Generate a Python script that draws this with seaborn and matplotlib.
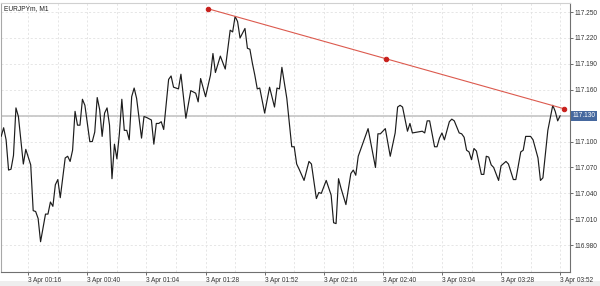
import numpy as np
import pandas as pd
import matplotlib
matplotlib.use("Agg")
import matplotlib.pyplot as plt
import matplotlib.ticker as mticker
import matplotlib.transforms as mtransforms
from matplotlib.patches import Rectangle
import seaborn as sns

# ---------------- data ----------------
symbol_title = "EURJPYm, M1"

# minutes after 00:00 (3 Apr) and close price
minutes = [5, 6, 7, 8, 9, 10, 11, 12, 14, 15, 17, 18, 19, 20, 21, 23, 24, 25, 26, 27,
           28, 29, 31, 32, 33, 34, 35, 36, 37, 38, 39, 41, 42, 43, 44, 45, 46, 47, 48, 49,
           50, 51, 52, 53, 54, 55, 56, 57, 58, 59, 60, 62, 63, 64, 66, 67, 68, 69, 70, 71,
           73, 74, 75, 77, 78, 80, 82, 84, 85, 86, 88, 90, 91, 92, 94, 96, 98, 99, 100, 101,
           102, 104, 105, 106, 107, 108, 109, 110, 112, 114, 116, 117, 118, 119, 121, 123, 124, 125, 126, 128,
           130, 131, 133, 134, 135, 137, 139, 140, 141, 142, 143, 145, 147, 148, 149, 150, 154, 157, 158, 159,
           161, 163, 165, 166, 167, 168, 170, 171, 172, 174, 176, 177, 178, 179, 181, 182, 183, 184, 185, 187,
           188, 189, 191, 192, 193, 194, 195, 196, 197, 198, 200, 201, 202, 203, 204, 205, 207, 208, 210, 211,
           213, 214, 216, 217, 218, 220, 221, 223, 224, 225, 227, 229, 230, 231, 232]
prices = [117.106, 117.116, 117.102, 117.067, 117.068, 117.084, 117.139, 117.129, 117.074, 117.091,
          117.073, 117.020, 117.019, 117.011, 116.984, 117.016, 117.016, 117.030, 117.025, 117.050,
          117.056, 117.035, 117.081, 117.083, 117.077, 117.090, 117.135, 117.119, 117.119, 117.149,
          117.142, 117.100, 117.100, 117.111, 117.151, 117.137, 117.106, 117.133, 117.139, 117.119,
          117.057, 117.097, 117.080, 117.109, 117.149, 117.113, 117.113, 117.102, 117.152, 117.162,
          117.150, 117.104, 117.129, 117.128, 117.125, 117.097, 117.121, 117.121, 117.123, 117.114,
          117.172, 117.176, 117.163, 117.161, 117.178, 117.127, 117.159, 117.156, 117.146, 117.173,
          117.152, 117.177, 117.202, 117.180, 117.199, 117.184, 117.229, 117.227, 117.245, 117.239,
          117.220, 117.231, 117.208, 117.207, 117.191, 117.177, 117.161, 117.162, 117.133, 117.163,
          117.140, 117.162, 117.161, 117.186, 117.150, 117.094, 117.094, 117.074, 117.068, 117.055,
          117.077, 117.074, 117.034, 117.041, 117.040, 117.055, 117.038, 117.006, 117.005, 117.057,
          117.046, 117.027, 117.063, 117.067, 117.061, 117.083, 117.115, 117.070, 117.109, 117.109,
          117.115, 117.083, 117.110, 117.140, 117.142, 117.140, 117.112, 117.121, 117.110, 117.111,
          117.112, 117.110, 117.124, 117.124, 117.094, 117.094, 117.104, 117.110, 117.102, 117.123,
          117.126, 117.124, 117.110, 117.109, 117.105, 117.090, 117.088, 117.079, 117.092, 117.089,
          117.062, 117.062, 117.083, 117.082, 117.073, 117.070, 117.055, 117.072, 117.077, 117.074,
          117.056, 117.056, 117.088, 117.090, 117.106, 117.106, 117.102, 117.081, 117.055, 117.058,
          117.113, 117.142, 117.135, 117.124, 117.130]

trend_minutes = [88.8, 161.2, 233.6]
trend_prices = [117.254, 117.196, 117.138]

current_price = 117.130

y_ticks = [116.980, 117.010, 117.040, 117.070, 117.100, 117.130, 117.160, 117.190, 117.220, 117.250]
x_tick_minutes = [16, 40, 64, 88, 112, 136, 160, 184, 208, 232]
x_tick_labels = ["3 Apr 00:16", "3 Apr 00:40", "3 Apr 01:04", "3 Apr 01:28", "3 Apr 01:52",
                 "3 Apr 02:16", "3 Apr 02:40", "3 Apr 03:04", "3 Apr 03:28", "3 Apr 03:52"]

# ---------------- style ----------------
sns.set_theme(style="white")
plt.rcParams['font.family'] = ['Liberation Sans', 'DejaVu Sans']

W, H = 600, 286
fig = plt.figure(figsize=(W / 100, H / 100), dpi=100)
fig.patch.set_facecolor("white")
ax_left, ax_right, ax_top, ax_bottom = 1, 570, 3, 271.6
ax = fig.add_axes([ax_left / W, 1 - ax_bottom / H, (ax_right - ax_left) / W, (ax_bottom - ax_top) / H])

# bottom light strip
fig.patches.append(Rectangle((0, 0), 1, 5.5 / H, transform=fig.transFigure,
                             facecolor="#eeeeee", edgecolor="none", zorder=-1))

df = pd.DataFrame({"minute": minutes, "price": prices})
tdf = pd.DataFrame({"minute": trend_minutes, "price": trend_prices})

ax.axhline(current_price, color="#c9c9c9", lw=1.3, zorder=1)
sns.lineplot(data=df, x="minute", y="price", ax=ax, color="#1c1c1c", lw=0.85,
             estimator=None, zorder=3)
sns.lineplot(data=tdf, x="minute", y="price", ax=ax, color="#dc5a4e", lw=0.8,
             estimator=None, marker="o", markersize=3.2, markerfacecolor="#c8201c",
             markeredgecolor="#c8201c", zorder=4)

ax.set_xlim(4.93, 236.0)
ax.set_ylim(116.9494, 117.2605)
ax.set_xlabel("")
ax.set_ylabel("")

# x ticks
ax.set_xticks(x_tick_minutes)
ax.set_xticklabels(x_tick_labels, ha="left")
ax.xaxis.set_minor_locator(mticker.FixedLocator(np.arange(4, 237, 12)))
ax.tick_params(axis="x", which="major", direction="out", length=2.5, width=0.6,
               color="#555555", labelsize=4.7, labelcolor="#333333", pad=1.5, bottom=True)
ax.tick_params(axis="x", which="minor", length=0)

# y ticks on right (the current-price tag replaces its own tick label)
ax.yaxis.tick_right()
ax.set_yticks(y_ticks)
ax.set_yticklabels(["" if abs(v - current_price) < 1e-9 else f"{v:.3f}" for v in y_ticks])
ax.tick_params(axis="y", which="major", direction="out", length=2, width=0.6,
               color="#555555", labelsize=4.7, labelcolor="#333333", pad=1, right=True)

# grid
grid_kw = dict(color="#e2e2e2", lw=0.6, ls=(0, (2.5, 2.5)))
ax.grid(which="both", axis="x", **grid_kw)
ax.grid(which="major", axis="y", **grid_kw)
ax.set_axisbelow(True)

# spines
for side, col, lw in [("left", "#a8a8a8", 0.8), ("top", "#d0d0d0", 0.8),
                      ("right", "#707070", 0.8), ("bottom", "#707070", 0.8)]:
    ax.spines[side].set_visible(True)
    ax.spines[side].set_color(col)
    ax.spines[side].set_linewidth(lw)

# current price tag
trans = mtransforms.blended_transform_factory(ax.transAxes, ax.transData)
ax.text(1.0 + 2.2 / (ax_right - ax_left), current_price, f"{current_price:.3f}",
        transform=trans, ha="left", va="center", fontsize=4.7, color="white",
        bbox=dict(boxstyle="square,pad=0.25", fc="#46689e", ec="none"),
        clip_on=False, zorder=10)

# title
fig.text(4 / W, 1 - 9 / H, symbol_title, ha="left", va="center", fontsize=4.8, color="#222222")

fig.savefig("out.png", dpi=100)
